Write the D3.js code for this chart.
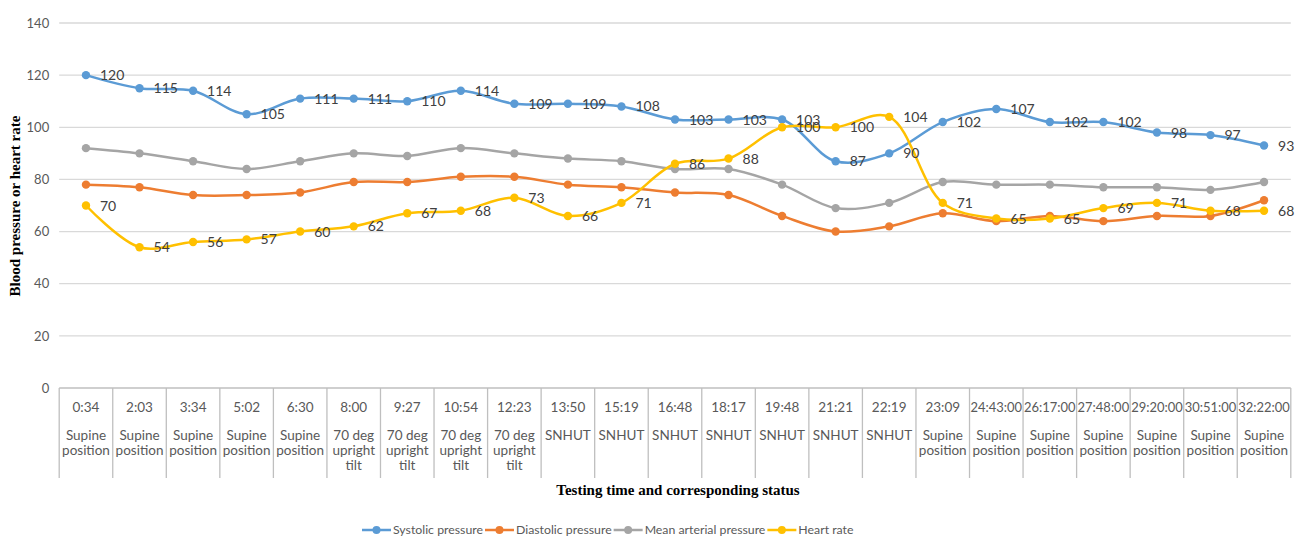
<!DOCTYPE html>
<html><head><meta charset="utf-8">
<script src="https://cdn.jsdelivr.net/npm/d3@7"></script>
<style>
body{margin:0;background:#fff;}
svg{display:block;}
</style></head><body>
<svg id="chart" width="1306" height="538"></svg>
<script>
const times = ["0:34","2:03","3:34","5:02","6:30","8:00","9:27","10:54","12:23","13:50","15:19","16:48","18:17","19:48","21:21","22:19","23:09","24:43:00","26:17:00","27:48:00","29:20:00","30:51:00","32:22:00"];
const statuses = [
  ["Supine","position"],["Supine","position"],["Supine","position"],["Supine","position"],["Supine","position"],
  ["70 deg","upright","tilt"],["70 deg","upright","tilt"],["70 deg","upright","tilt"],["70 deg","upright","tilt"],
  ["SNHUT"],["SNHUT"],["SNHUT"],["SNHUT"],["SNHUT"],["SNHUT"],["SNHUT"],
  ["Supine","position"],["Supine","position"],["Supine","position"],["Supine","position"],["Supine","position"],["Supine","position"],["Supine","position"]
];
const systolic  = [120,115,114,105,111,111,110,114,109,109,108,103,103,103,87,90,102,107,102,102,98,97,93];
const diastolic = [78,77,74,74,75,79,79,81,81,78,77,75,74,66,60,62,67,64,66,64,66,66,72];
const meanArterial = [92,90,87,84,87,90,89,92,90,88,87,84,84,78,69,71,79,78,78,77,77,76,79];
const heartRate = [70,54,56,57,60,62,67,68,73,66,71,86,88,100,100,104,71,65,65,69,71,68,68];
const yTicks = [0,20,40,60,80,100,120,140];

const series = [
  {name:"Systolic pressure", values:systolic, color:"#5B9BD5", labels:true},
  {name:"Diastolic pressure", values:diastolic, color:"#ED7D31", labels:false},
  {name:"Mean arterial pressure", values:meanArterial, color:"#A5A5A5", labels:false},
  {name:"Heart rate", values:heartRate, color:"#FFC000", labels:true}
];

(function(){
const svg = d3.select("#chart");
const pL = 59.2, pR = 1290.8, pT = 23, pB = 388;
const font = "Lato,'Segoe UI','Noto Sans',sans-serif";

const x = d3.scaleBand().domain(times.map((t,i)=>i)).range([pL,pR]).padding(0);
const y = d3.scaleLinear().domain([0,140]).range([pB,pT]);
const cx = i => x(i) + x.bandwidth()/2;

// gridlines
const grid = svg.append("g");
yTicks.filter(t=>t>0).forEach(t=>{
  grid.append("line").attr("x1",pL).attr("x2",pR).attr("y1",y(t)).attr("y2",y(t))
    .attr("stroke","#d9d9d9").attr("stroke-width",1.3);
});

// y axis labels
const yAxis = d3.axisLeft(y).tickValues(yTicks).tickSize(0).tickPadding(10);
const ya = svg.append("g").attr("transform",`translate(${pL},0)`).call(yAxis);
ya.select(".domain").remove();
ya.selectAll("text").attr("font-family",font).attr("font-size",13).attr("fill","#595959");

// category table
const tbl = svg.append("g");
const tableBottom = 478;
tbl.append("line").attr("x1",pL).attr("x2",pR).attr("y1",pB).attr("y2",pB)
  .attr("stroke","#bfbfbf").attr("stroke-width",1.3);
d3.range(times.length+1).forEach(i=>{
  const xx = i<times.length ? x(i) : pR;
  tbl.append("line").attr("x1",xx).attr("x2",xx).attr("y1",pB).attr("y2",tableBottom)
    .attr("stroke","#bfbfbf").attr("stroke-width",1.3);
});
times.forEach((t,i)=>{
  const tt = tbl.append("text").attr("x",cx(i)).attr("y",407).attr("dy","0.35em")
    .attr("text-anchor","middle").attr("font-family",font).attr("font-size",13.5).attr("fill","#595959").text(t);
  const w = tt.node().getComputedTextLength();
  const maxW = x.bandwidth() - 2;
  if (w > maxW) {
    tt.attr("textLength", maxW).attr("lengthAdjust","spacingAndGlyphs");
  }
  statuses[i].forEach((s,j)=>{
    tbl.append("text").attr("x",cx(i)).attr("y",435+j*15).attr("dy","0.35em")
      .attr("text-anchor","middle").attr("font-family",font).attr("font-size",13.5).attr("fill","#595959").text(s);
  });
});

// lines
const line = d3.line().x((d,i)=>cx(i)).y(d=>y(d)).curve(d3.curveCatmullRom.alpha(0.5));
series.forEach(s=>{
  const g = svg.append("g");
  g.append("path").attr("d",line(s.values)).attr("fill","none").attr("stroke",s.color)
    .attr("stroke-width",2.5).attr("stroke-linejoin","round").attr("stroke-linecap","round");
  g.selectAll("circle").data(s.values).join("circle")
    .attr("cx",(d,i)=>cx(i)).attr("cy",d=>y(d)).attr("r",4.2).attr("fill",s.color);
});
// labels
series.filter(s=>s.labels).forEach(s=>{
  svg.append("g").selectAll("text").data(s.values).join("text")
    .attr("x",(d,i)=>cx(i)+14).attr("y",d=>y(d)).attr("dy","0.36em")
    .attr("font-family",font).attr("font-size",14).attr("fill","#404040").text(d=>d);
});

// axis titles
svg.append("text").attr("x",678).attr("y",490).attr("dy","0.35em").attr("text-anchor","middle")
  .attr("font-family","'Liberation Serif','Times New Roman',serif").attr("font-weight","bold").attr("font-size",15)
  .attr("fill","#000").text("Testing time and corresponding status");
svg.append("text").attr("transform","translate(15,206) rotate(-90)").attr("dy","0.35em").attr("text-anchor","middle")
  .attr("font-family","'Liberation Serif','Times New Roman',serif").attr("font-weight","bold").attr("font-size",15)
  .attr("fill","#000").text("Blood pressure or heart rate");

// legend
const lg = svg.append("g");
let lx = 362;
const ly = 530;
series.forEach(s=>{
  lg.append("line").attr("x1",lx).attr("x2",lx+29).attr("y1",ly).attr("y2",ly)
    .attr("stroke",s.color).attr("stroke-width",2.5);
  lg.append("circle").attr("cx",lx+14.5).attr("cy",ly).attr("r",4).attr("fill",s.color);
  const t = lg.append("text").attr("x",lx+31).attr("y",ly).attr("dy","0.35em")
    .attr("font-family",font).attr("font-size",12.3).attr("fill","#595959").text(s.name);
  lx = lx + 31 + t.node().getComputedTextLength() + 2;
});
})();
</script>
</body></html>
